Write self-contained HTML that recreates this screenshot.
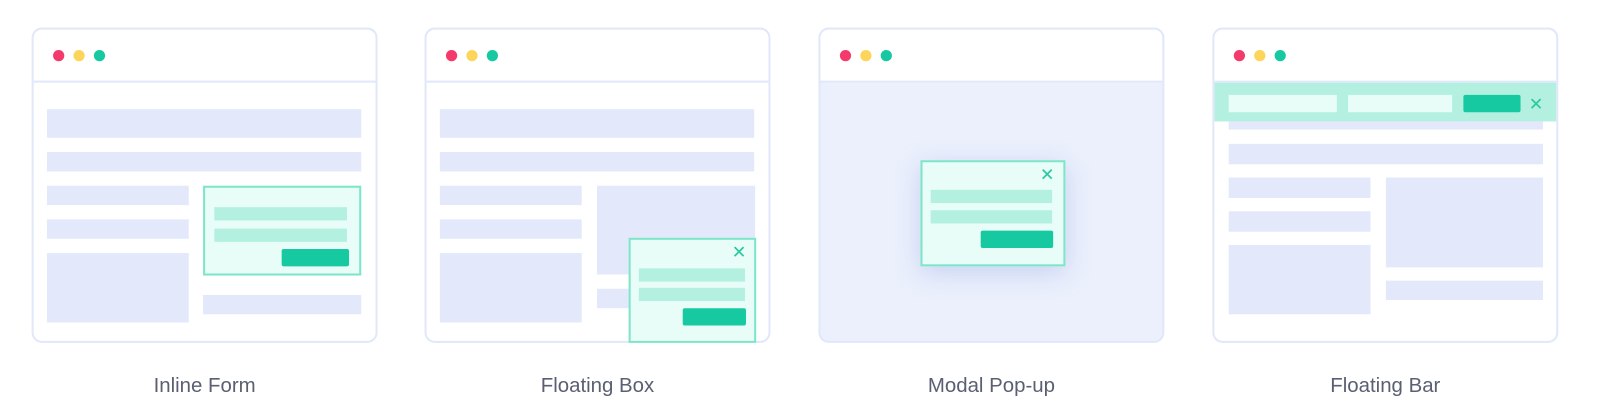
<!DOCTYPE html><html><head><style>
body{margin:0;width:1600px;height:418px;background:#fff;position:relative;overflow:hidden;font-family:"Liberation Sans",sans-serif}
#r{position:absolute;left:0;top:0;width:1568px;height:410px;transform:scale(1.0205);transform-origin:0 0}
div{position:absolute;box-sizing:border-box}
.w{top:27px;width:339px;height:309px;border:2px solid #e0e8fa;border-radius:10px;background:#fff;overflow:hidden}
.hl{left:0;right:0;top:50px;height:2px;background:#e0e8fa}
.d{width:11px;height:11px;border-radius:50%;top:20px}
.b{background:#e3e9fb}
.g{background:#b3f0e0}
.btn{background:#17c9a0;border-radius:2px}
.box{background:#e9fdf8;border:2px solid #7fe5c9}
.x{color:#2cc9a0;font-size:17px;line-height:17px}
.l{top:367px;width:339px;text-align:center;font-size:20px;color:#5a6072}
</style></head><body><div id="r">
<!-- card1 -->
<div class="w" style="left:31px">
<div class="hl"></div>
<div class="d" style="left:19px;background:#f43a6a"></div><div class="d" style="left:39px;background:#fcd55a"></div><div class="d" style="left:59px;background:#17c9a0"></div>
<div class="b" style="left:13px;top:78px;width:308px;height:28px"></div>
<div class="b" style="left:13px;top:120px;width:308px;height:19px"></div>
<div class="b" style="left:13px;top:153px;width:139px;height:19px"></div>
<div class="b" style="left:13px;top:186px;width:139px;height:19px"></div>
<div class="b" style="left:13px;top:219px;width:139px;height:68px"></div>
<div class="box" style="left:166px;top:153px;width:155px;height:88px"></div>
<div class="g" style="left:177px;top:174px;width:130px;height:13px"></div>
<div class="g" style="left:177px;top:195px;width:130px;height:13px"></div>
<div class="btn" style="left:243px;top:215px;width:66px;height:17px"></div>
<div class="b" style="left:166px;top:260px;width:155px;height:19px"></div>
</div>
<!-- card2 -->
<div class="w" style="left:416px">
<div class="hl"></div>
<div class="d" style="left:19px;background:#f43a6a"></div><div class="d" style="left:39px;background:#fcd55a"></div><div class="d" style="left:59px;background:#17c9a0"></div>
<div class="b" style="left:13px;top:78px;width:308px;height:28px"></div>
<div class="b" style="left:13px;top:120px;width:308px;height:19px"></div>
<div class="b" style="left:13px;top:153px;width:139px;height:19px"></div>
<div class="b" style="left:13px;top:186px;width:139px;height:19px"></div>
<div class="b" style="left:13px;top:219px;width:139px;height:68px"></div>
<div class="b" style="left:167px;top:153px;width:155px;height:87px"></div>
<div class="b" style="left:167px;top:254px;width:60px;height:19px"></div>
</div>
<div class="box" style="left:616px;top:233px;width:125px;height:103px"></div>
<div class="g" style="left:626px;top:263px;width:104px;height:13px"></div>
<div class="g" style="left:626px;top:282px;width:104px;height:13px"></div>
<div class="btn" style="left:669px;top:302px;width:62px;height:17px"></div>
<div class="x" style="left:717px;top:239px">✕</div>
<!-- card3 -->
<div class="w" style="left:802px;background:#ebf0fc">
<div class="hl" style="top:0;height:52px;background:#fff;border-bottom:2px solid #e0e8fa"></div>
<div class="d" style="left:19px;background:#f43a6a"></div><div class="d" style="left:39px;background:#fcd55a"></div><div class="d" style="left:59px;background:#17c9a0"></div>
</div>
<div style="left:902px;top:157px;width:142px;height:104px;box-shadow:0 6px 24px rgba(150,170,230,.45)" class="box"></div>
<div class="g" style="left:912px;top:186px;width:119px;height:13px"></div>
<div class="g" style="left:912px;top:206px;width:119px;height:13px"></div>
<div class="btn" style="left:961px;top:226px;width:71px;height:17px"></div>
<div class="x" style="left:1019px;top:163px">✕</div>
<!-- card4 -->
<div class="w" style="left:1188px">
<div class="hl"></div>
<div class="d" style="left:19px;background:#f43a6a"></div><div class="d" style="left:39px;background:#fcd55a"></div><div class="d" style="left:59px;background:#17c9a0"></div>
<div class="g" style="left:0;top:52px;width:339px;height:38px"></div>
<div style="left:14px;top:64px;width:106px;height:17px;background:#e9fdf8"></div>
<div style="left:131px;top:64px;width:102px;height:17px;background:#e9fdf8"></div>
<div class="btn" style="left:244px;top:64px;width:56px;height:17px"></div>
<div class="x" style="left:308px;top:65px">✕</div>
<div class="b" style="left:14px;top:90px;width:308px;height:8px"></div>
<div class="b" style="left:14px;top:112px;width:308px;height:20px"></div>
<div class="b" style="left:14px;top:145px;width:139px;height:20px"></div>
<div class="b" style="left:14px;top:178px;width:139px;height:20px"></div>
<div class="b" style="left:14px;top:211px;width:139px;height:68px"></div>
<div class="b" style="left:168px;top:145px;width:154px;height:88px"></div>
<div class="b" style="left:168px;top:246px;width:154px;height:19px"></div>
</div>
<div class="l" style="left:31px">Inline Form</div>
<div class="l" style="left:416px">Floating Box</div>
<div class="l" style="left:802px">Modal Pop-up</div>
<div class="l" style="left:1188px">Floating Bar</div>
</div></body></html>
